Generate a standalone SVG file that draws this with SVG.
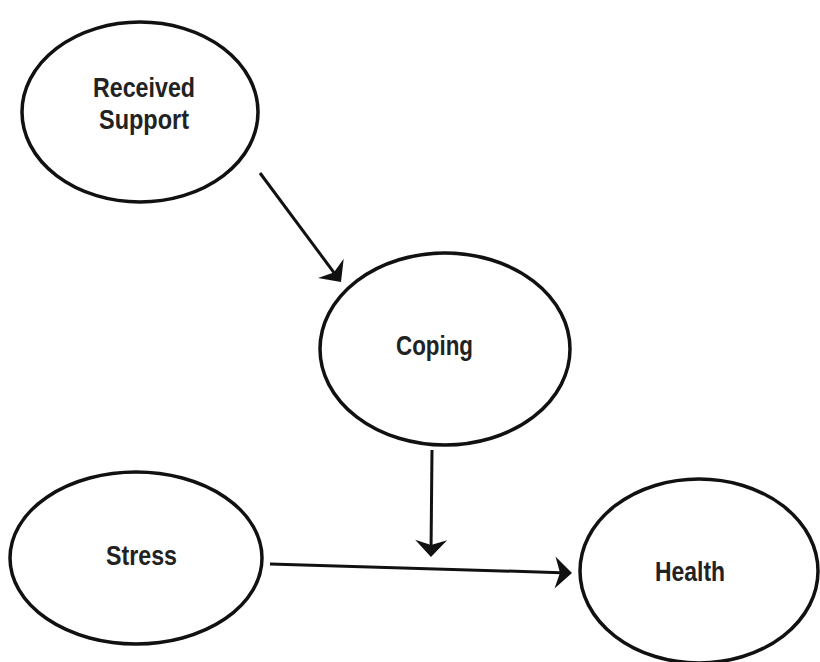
<svg xmlns="http://www.w3.org/2000/svg" width="820" height="662" viewBox="0 0 820 662">
<style>
.node{fill:#fff;stroke:#111;stroke-width:3.5}
.lbl{font-family:"Liberation Sans",Arial,sans-serif;font-weight:bold;font-size:28px;fill:#222;text-anchor:middle}
.edge{stroke:#111;stroke-width:3;fill:none}
</style>
<defs>
<marker id="ah" viewBox="-20 -20 40 40" refX="-4" refY="0" markerWidth="40" markerHeight="40" markerUnits="userSpaceOnUse" orient="auto">
<path d="M0,0 L-17,-16 L-12,0 L-17,16 Z" fill="#111"/>
</marker>
</defs>
<rect width="820" height="662" fill="#fff"/>
<g id="received-support">
<ellipse class="node" cx="140" cy="112" rx="118" ry="90"/>
<text class="lbl" x="144" y="97" textLength="102" lengthAdjust="spacingAndGlyphs">Received</text>
<text class="lbl" x="144" y="129" textLength="90" lengthAdjust="spacingAndGlyphs">Support</text>
</g>
<g id="coping">
<ellipse class="node" cx="445" cy="349" rx="125" ry="96"/>
<text class="lbl" x="434.5" y="355" textLength="77" lengthAdjust="spacingAndGlyphs">Coping</text>
</g>
<g id="stress">
<ellipse class="node" cx="136" cy="558" rx="126" ry="86"/>
<text class="lbl" x="141.5" y="565" textLength="71" lengthAdjust="spacingAndGlyphs">Stress</text>
</g>
<g id="health">
<ellipse class="node" cx="699" cy="571" rx="119" ry="92"/>
<text class="lbl" x="690" y="581" textLength="70" lengthAdjust="spacingAndGlyphs">Health</text>
</g>
<g id="connectors">
<line class="edge" x1="260" y1="173" x2="338.6" y2="278.8" marker-end="url(#ah)"/>
<line class="edge" x1="432" y1="450" x2="431" y2="553" marker-end="url(#ah)"/>
<line class="edge" x1="270" y1="564" x2="568" y2="572.9" marker-end="url(#ah)"/>
</g>
</svg>
